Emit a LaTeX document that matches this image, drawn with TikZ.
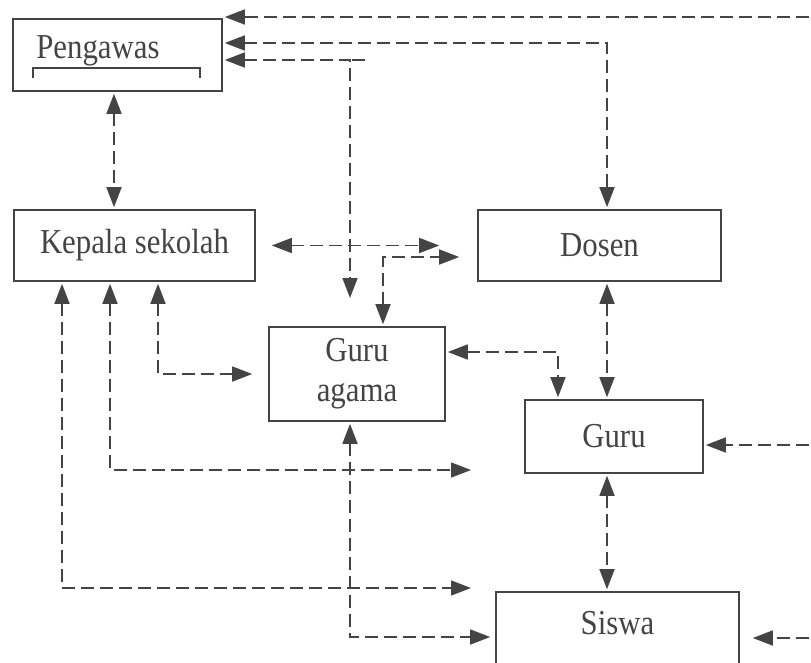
\documentclass[tikz,border=0pt]{standalone}
\usepackage{fontspec}
\setmainfont{Liberation Serif}[FakeStretch=0.88]
\usepackage{xcolor}
\usetikzlibrary{arrows.meta}
\definecolor{ink}{HTML}{444444}

\begin{document}
\begin{tikzpicture}[
            x = 1pt, y = -1pt,
            > = {Triangle[length=20pt,width=15pt]}, % arrow head style
            shorten > = 2pt, % don't touch arrow head to node
            shorten < = 2pt,
            line width = 1.6pt,
            every node/.style = {text=ink, font=\fontsize{35}{40}\selectfont},
            box/.style = {draw=ink, inner sep=0pt},
            link/.style = {draw=ink, dash pattern=on 13pt off 6pt}
        ]
\useasboundingbox (0,0) rectangle (811,662);

\node[box, minimum width=209pt, minimum height=72pt] (peng) at (117.5,55) {};
\node[anchor=base west] (pengtext) at ([xshift=20pt,yshift=-3pt]peng.west) {Pengawas};
\draw[ink, line width=1.2pt] (33,80) |- (200,68) -- (200,80);
\node[box, minimum width=241pt, minimum height=71pt] (kepsek) at (134.5,245.5) {Kepala sekolah};
\node[box, minimum width=243pt, minimum height=71pt] (dosen) at (599.5,245.5) {Dosen};
\node[box, minimum width=176pt, minimum height=94pt, align=center] (guruag) at (357,374) {Guru\\agama};
\node[box, minimum width=178pt, minimum height=73pt] (guru) at (614,436.5) {Guru};
\node[box, minimum width=243pt, minimum height=80pt, text depth=18pt] (siswa) at (617.5,632) {Siswa};

\coordinate (cx) at (607,0);
\coordinate (cl) at (114,0);
\coordinate (topin) at (811,17);
\coordinate (gurin) at (811,445);
\coordinate (siswin) at (811,638);
\coordinate (a3) at (350,300);
\coordinate (stub) at (367,60);
\coordinate (mid1) at (473,470);
\coordinate (mid2) at (473,588);

 \draw [link,->] (topin) -- (peng.east |- topin);
 \draw [link,<->] ([yshift=12pt]peng.east) -| (dosen.north -| cx);
 \draw [link,<->] ([yshift=-5pt]peng.east) -| (a3);
 \draw [link] (a3 |- stub) -- (stub);
 \draw [link,<->] (peng.south -| cl) -- (kepsek.north -| cl);
 \draw [link,<->, shorten <=16pt, shorten >=38pt] (kepsek.east) -- (dosen.west);
 \draw [link,<->, shorten >=18pt] ([xshift=26pt]guruag.north) |- ([yshift=-11.5pt]dosen.west);
 \draw [link,<->, shorten >=16pt] ([xshift=23.5pt]kepsek.south) |- (guruag.west);
 \draw [link,<->] ([xshift=-24.5pt]kepsek.south) |- (mid1);
 \draw [link,<->] ([xshift=-72.5pt]kepsek.south) |- (mid2);
 \draw [link,<->] ([yshift=22pt]guruag.east) -| ([xshift=-56pt]guru.north);
 \draw [link,<->] (dosen.south -| cx) -- (guru.north -| cx);
 \draw [link,<->] (guru.south -| cx) -- (siswa.north -| cx);
 \draw [link,->] (gurin) -- (guru.east |- gurin);
 \draw [link,->, shorten >=13pt] (siswin) -- (siswa.east |- siswin);
 \draw [link,<->, shorten >=5pt] ([xshift=-7pt]guruag.south) |- ([yshift=-5pt]siswa.west);
\end{tikzpicture}
\end{document}
